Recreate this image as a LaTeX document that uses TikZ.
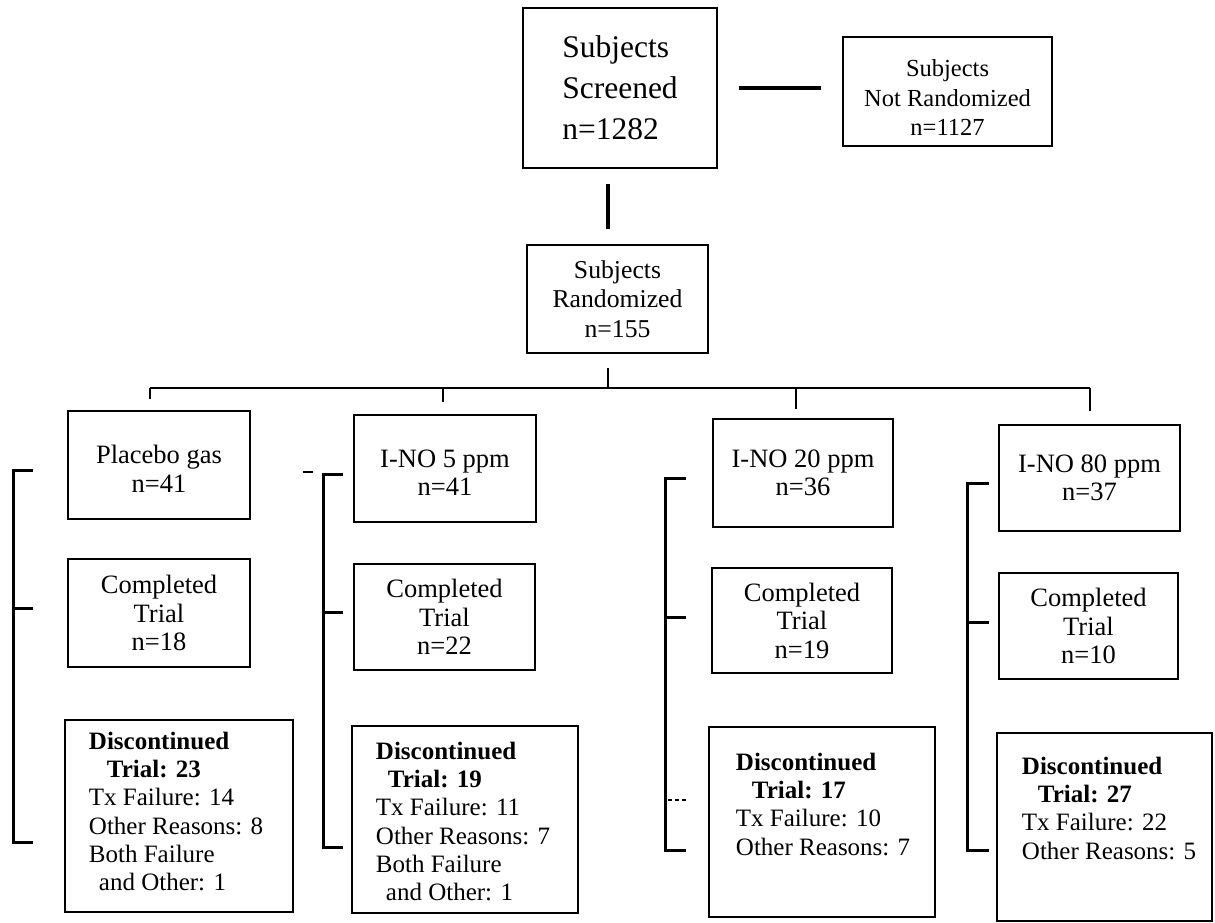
\documentclass[tikz,border=0pt]{standalone}
\usepackage{fontspec}
\setmainfont{Liberation Serif}
\usetikzlibrary{calc}
\begin{document}
\begin{tikzpicture}[x=1pt,y=-1pt,
  box/.style={draw, line width=2.5pt, rectangle, inner sep=0pt, align=center,
    font=\fontsize{26.5}{28.5}\selectfont},
  disctext/.style={anchor=north west, inner sep=0pt, align=left,
    font=\fontsize{25}{28.3}\selectfont},
  topline/.style={line width=3.5pt},
  busline/.style={line width=2.2pt},
  bracket/.style={line width=3pt}]
\useasboundingbox (0,0) rectangle (1215,923);
\fill[white] (0,0) rectangle (1215,923);

% top part
\node[box, font=\fontsize{31.5}{41}\selectfont, align=left,
  minimum width=194pt, minimum height=160pt] (scr) at (620,88) {Subjects\\Screened\\n=1282};
\node[box, font=\fontsize{24.5}{29.5}\selectfont,
  minimum width=209pt, minimum height=109pt] (nr) at (947.5,91.5) {\rule{0pt}{29pt}Subjects\\Not Randomized\\n=1127};
\node[box, font=\fontsize{25.7}{29.5}\selectfont,
  minimum width=181pt, minimum height=108pt] (rand) at (617.5,299) {Subjects\\Randomized\\n=155};

% group boxes
\node[box, minimum width=182pt, minimum height=108pt] (p1) at (159,465) {\rule{0pt}{26pt}Placebo gas\\n=41};
\node[box, minimum width=182pt, minimum height=108pt] (c1) at (159,613) {Completed\\Trial\\n=18};
\node[box, minimum width=228pt, minimum height=192pt] (d1) at (179,816) {};

\node[box, minimum width=182pt, minimum height=107pt] (p2) at (445,468.5) {\rule{0pt}{26pt}I-NO 5 ppm\\n=41};
\node[box, minimum width=181pt, minimum height=106pt] (c2) at (444.5,617) {Completed\\Trial\\n=22};
\node[box, minimum width=226pt, minimum height=187pt] (d2) at (465,819.5) {};

\node[box, minimum width=180pt, minimum height=108pt] (p3) at (803,473) {I-NO 20 ppm\\n=36};
\node[box, minimum width=180pt, minimum height=105pt] (c3) at (802,620.5) {Completed\\Trial\\n=19};
\node[box, minimum width=226pt, minimum height=190pt] (d3) at (822,822) {};

\node[box, minimum width=181pt, minimum height=106pt] (p4) at (1089.5,478) {I-NO 80 ppm\\n=37};
\node[box, minimum width=179pt, minimum height=106pt] (c4) at (1088.5,626) {Completed\\Trial\\n=10};
\node[box, minimum width=215pt, minimum height=188pt] (d4) at (1104.5,827) {};

% discontinued texts
\node[disctext] (d1t) at ($(d1.north west)+(25,13)$)
  {\textbf{Discontinued}\\\hspace*{18pt}\textbf{Trial: 23}\\Tx Failure: 14\\Other Reasons: 8\\Both Failure\\\hspace*{10pt}and Other: 1};
\node[disctext] (d2t) at ($(d2.north west)+(25,17)$)
  {\textbf{Discontinued}\\\hspace*{12pt}\textbf{Trial: 19}\\Tx Failure: 11\\Other Reasons: 7\\Both Failure\\\hspace*{10pt}and Other: 1};
\node[disctext] (d3t) at ($(d3.north west)+(28,27)$)
  {\textbf{Discontinued}\\\hspace*{16pt}\textbf{Trial: 17}\\Tx Failure: 10\\Other Reasons: 7};
\node[disctext] (d4t) at ($(d4.north west)+(26,25)$)
  {\textbf{Discontinued}\\\hspace*{16pt}\textbf{Trial: 27}\\Tx Failure: 22\\Other Reasons: 5};

% connectors
\coordinate (bus) at (608,388);
\draw[topline] ($(scr.east)+(21,0)$) -- ($(scr.east -| nr.west)+(-21,0)$);
\draw[topline] ($(scr.south -| bus)+(0,15)$) -- ($(rand.north -| bus)+(0,-15)$);
\draw[busline] ($(rand.south -| bus)+(0,14)$) -- (bus);
\coordinate (t1) at (150,388);
\coordinate (t2) at (443,388);
\coordinate (t3) at (796,388);
\coordinate (t4) at (1090,388);
\draw[busline] (t1) -- (t4);
\foreach \i/\g in {1/11,2/12,3/9,4/13}
  \draw[busline] (t\i) -- ($(t\i |- p\i.north)+(0,-\g)$);

% brackets
\foreach \x/\e/\a/\b/\c in {13/33/470/608/842, 323/343/474/612/847, 665/686/478/617/850, 967/989/483/622/850}{
  \draw[bracket] (\e,\a) -| (\x,\c) -- (\e,\c);
  \draw[bracket] (\x,\b) -- (\e,\b);
}
% small marks
\draw[line width=2.5pt] (303,472) -- (313,472);
\draw[line width=1.2pt, dash pattern=on 4pt off 3pt] (668,800) -- (687,800);
\end{tikzpicture}
\end{document}
